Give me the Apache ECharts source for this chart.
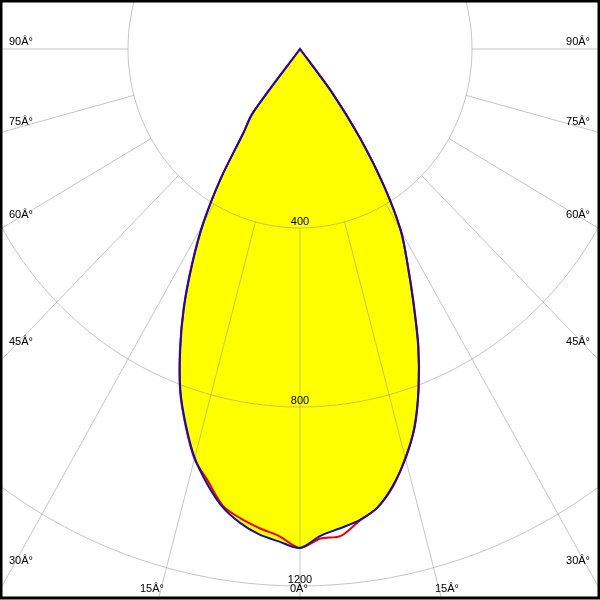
<!DOCTYPE html>
<html><head><meta charset="utf-8">
<script src="https://cdn.jsdelivr.net/npm/echarts@6/dist/echarts.min.js"></script>
<style>html,body{margin:0;padding:0;background:#fff}#c{width:600px;height:600px}</style>
</head><body><div id="c"></div>
<script>
// Gamma angles (deg from nadir)
const ANGLES = [0,2.5,5,7.5,10,12.5,15,17.5,20,22.5,25,27.5,30,32.5,35,37.5,40,42.5,45,47.5,50,52.5,55,57.5,60,62.5,65,67.5,70,72.5,75,77.5,80,82.5,85,87.5,90];
// Blue plane (C0 right / C180 left)
const C0   = [1115,1089,1075,1062,1040,999,948,885,806,718,623,541,470,366,245,120,0,0,0,0,0,0,0,0,0,0,0,0,0,0,0,0,0,0,0,0,0];
const C180 = [1115,1102,1089,1068,1039,996,946,882,813,728,639,544,450,342,230,180,0,0,0,0,0,0,0,0,0,0,0,0,0,0,0,0,0,0,0,0,0];
// Red plane (C90 right / C270 left)
const C90  = [1115,1095,1092,1063,1040,1001,946,887,807,720,625,542,468,364,246,118,0,0,0,0,0,0,0,0,0,0,0,0,0,0,0,0,0,0,0,0,0];
const C270 = [1115,1090,1075,1058,1036,989,948,884,815,730,641,546,452,344,232,182,0,0,0,0,0,0,0,0,0,0,0,0,0,0,0,0,0,0,0,0,0];
const RINGS = [400,800,1200];
const RING_LABELS = ['400','800','1200'];
const SPOKES = [0,15,30,45,60,75,90,105,120,135,150,165,180,195,210,225,240,255,270,285,300,315,330,345];
const LEFT_LABELS = ['90Â°','75Â°','60Â°','45Â°','30Â°'];
const RIGHT_LABELS = ['90Â°','75Â°','60Â°','45Â°','30Â°'];
const BOTTOM_LABELS = ['15Â°','0Â°','15Â°'];

const X_HALF = 697.67, Y_MIN = -109.5, Y_MAX = 1231.3;
const FONT = '11px "Liberation Sans", Arial, sans-serif';
const GRID_COLOR = 'rgba(150,150,150,0.55)';
const SMOOTH = 0.3;

function toXY(deg, I, side){ const t = deg*Math.PI/180; return [side*I*Math.sin(t), I*Math.cos(t)]; }
function curve(left, right){
  const pts = [];
  for (let i = ANGLES.length-1; i > 0; i--) pts.push(toXY(ANGLES[i], left[i], -1));
  for (let i = 0; i < ANGLES.length; i++) pts.push(toXY(ANGLES[i], right[i], 1));
  return pts;
}
const bluePts = curve(C180, C0);
const redPts = curve(C270, C90);

function curveSeries(pts, z, kind, color){
  return { type:'custom', z:z, silent:true, data: pts,
    renderItem:(params, api)=>{
      if (params.dataIndex !== 0) return null;
      const px = pts.map(p=>api.coord(p));
      if (kind === 'fill') return {type:'polygon', shape:{points:px, smooth:SMOOTH}, style:{fill:color, stroke:'none'}};
      return {type:'polygon', shape:{points:px, smooth:SMOOTH}, style:{fill:'none', stroke:color, lineWidth:2}};
    }};
}

const chart = echarts.init(document.getElementById('c'), null, {renderer:'canvas'});
const leftY = [42, 122, 215, 342, 561];
const bottomX = [140, 290, 435];
const graphics = [];
LEFT_LABELS.forEach((t,i)=>graphics.push({type:'text', left:9, top:leftY[i]-6, z:10, style:{text:t, font:FONT, fill:'#000'}}));
RIGHT_LABELS.forEach((t,i)=>graphics.push({type:'text', right:10, top:leftY[i]-6, z:10, style:{text:t, font:FONT, fill:'#000'}}));
BOTTOM_LABELS.forEach((t,i)=>graphics.push({type:'text', left:bottomX[i], top:583, z:10, style:{text:t, font:FONT, fill:'#000'}}));
graphics.push({type:'rect', z:20, shape:{x:1, y:1, width:598, height:597}, style:{fill:'none', stroke:'#000', lineWidth:3}});

chart.setOption({
  animation:false,
  backgroundColor:'#fff',
  grid:{left:0,right:0,top:0,bottom:0},
  xAxis:{type:'value', min:-X_HALF, max:X_HALF, show:false},
  yAxis:{type:'value', min:Y_MIN, max:Y_MAX, inverse:true, show:false},
  graphic: graphics,
  series:[
    curveSeries(bluePts, 1, 'fill', '#ffff00'),
    { type:'custom', z:2, silent:true, data: RINGS.map((r,i)=>[0, r, i]),
      renderItem:(params, api)=>{
        const r = RINGS[params.dataIndex];
        const pts = [];
        for (let a = 0; a <= 360; a += 2) pts.push(api.coord([r*Math.sin(a*Math.PI/180), r*Math.cos(a*Math.PI/180)]));
        return {type:'polyline', shape:{points:pts}, style:{fill:'none', stroke:GRID_COLOR, lineWidth:1}};
      }},
    { type:'custom', z:2, silent:true, data: SPOKES.map(a=>[a]),
      renderItem:(params, api)=>{
        const a = SPOKES[params.dataIndex]*Math.PI/180;
        const p1 = api.coord([RINGS[0]*Math.sin(a), RINGS[0]*Math.cos(a)]);
        const p2 = api.coord([3000*Math.sin(a), 3000*Math.cos(a)]);
        return {type:'line', shape:{x1:p1[0], y1:p1[1], x2:p2[0], y2:p2[1]}, style:{stroke:GRID_COLOR, lineWidth:1}};
      }},
    curveSeries(redPts, 3, 'line', '#ee0000'),
    curveSeries(bluePts, 4, 'line', '#1010b0'),
    { type:'custom', z:6, silent:true, data: RINGS.map((r,i)=>[0, r, i]),
      renderItem:(params, api)=>{
        const p = api.coord([0, RINGS[params.dataIndex]]);
        return {type:'text', x:p[0], y:p[1]-6, style:{text:RING_LABELS[params.dataIndex], font:FONT, fill:'#000', align:'center', verticalAlign:'middle', textAlign:'center', textVerticalAlign:'middle'}};
      }}
  ]
});
</script></body></html>
